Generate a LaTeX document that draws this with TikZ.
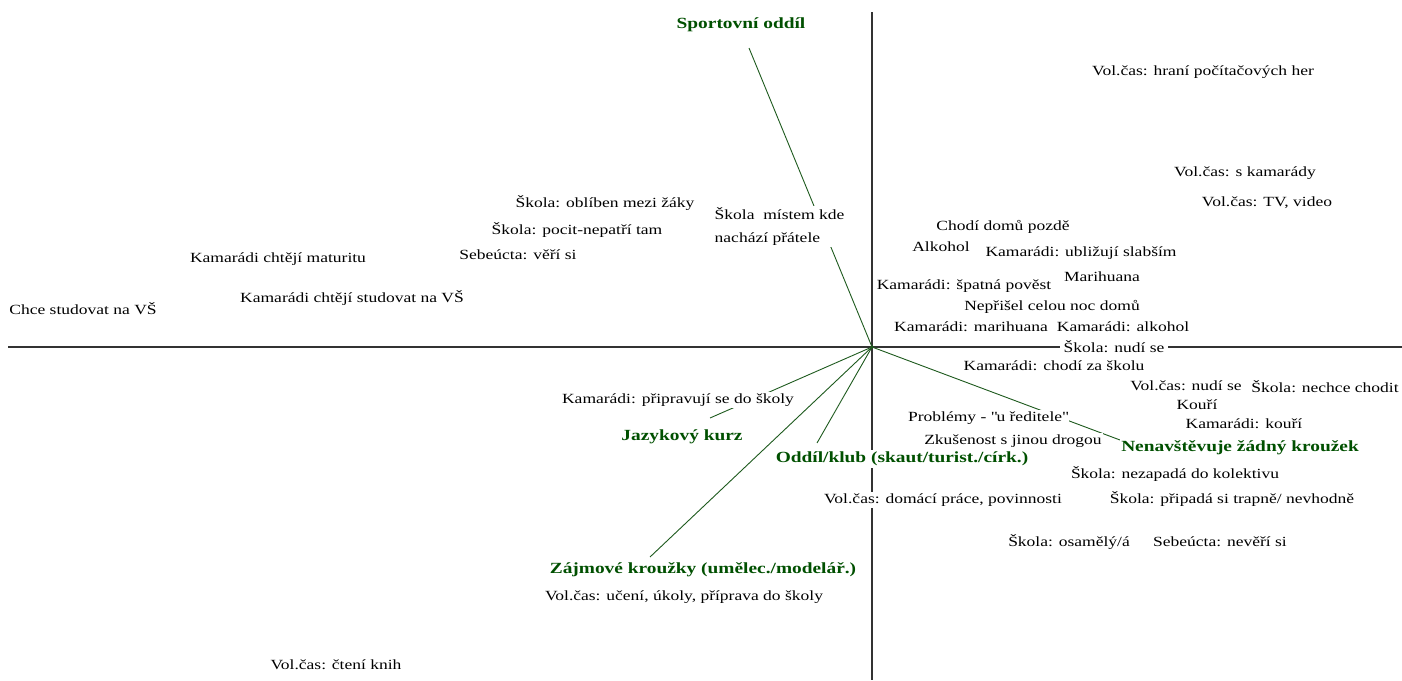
\documentclass[tikz,border=0pt]{standalone}
\usepackage{fontspec}
\setmainfont[FakeStretch=1.25]{Liberation Serif}
\usepackage{tikz}
\definecolor{grpgreen}{RGB}{0,80,0}
\definecolor{raygreen}{RGB}{30,90,30}

\begin{document}
\begin{tikzpicture}[
		x=1pt, y=-1pt,
		every node/.style={fill=white, inner sep=1.5pt, font=\fontsize{14}{17}\selectfont},
		grp/.style={text=grpgreen, font=\fontsize{15.5}{18}\selectfont\bfseries},
		ray/.style={draw=raygreen, line width=0.9pt},
		axis/.style={draw=black!80, line width=1.6pt}
	]
  \useasboundingbox (0,0) rectangle (1402,680);
  % axes
  \coordinate (o) at (872, 347);
  \coordinate (ax_l) at (8, 347);
  \coordinate (ax_r) at (1402, 347);
  \coordinate (ax_t) at (872, 12);
  \coordinate (ax_b) at (872, 680);
  \draw[axis] (ax_l) -- (ax_r);
  \draw[axis] (ax_t) -- (ax_b);
  % rays to the groups
  \coordinate (sport_end) at (749, 48);
  \coordinate (jazyk_end) at (710, 418);
  \coordinate (oddil_end) at (817, 443);
  \coordinate (zajm_end) at (650, 557);
  \coordinate (nenav_end) at (1120, 440);
  \draw[ray] (o) -- (sport_end);
  \draw[ray] (o) -- (jazyk_end);
  \draw[ray] (o) -- (oddil_end);
  \draw[ray] (o) -- (zajm_end);
  \draw[ray] (o) -- (nenav_end);
  \node (o_dot) [circle, fill=raygreen, inner sep=1.3pt] at (o) {};
  % groups
  \node (sport) [grp] at (741, 25) {Sportovní oddíl};
  \node (jazyk) [grp] at (682, 437) {Jazykový kurz};
  \node (oddil) [grp] at (902, 459) {Oddíl/klub (skaut/turist./círk.)};
  \node (zajm) [grp] at (703, 570) {Zájmové kroužky (umělec./modelář.)};
  \node (nenav) [grp] at (1240, 448) {Nenavštěvuje žádný kroužek};
  % answers
  \node (hry) at (1203, 72) {Vol.čas: hraní počítačových her};
  \node (kamar) at (1245, 173) {Vol.čas: s kamarády};
  \node (tv) at (1267, 203) {Vol.čas: TV, video};
  \node (oblib) at (605, 203) {Škola: oblíben mezi žáky};
  \node (nepatri) at (577, 230) {Škola: pocit-nepatří tam};
  \node (veri) at (518, 255) {Sebeúcta: věří si};
  \node (pratele) [anchor=west, align=left, font=\fontsize{14}{23}\selectfont] at (713, 226) {Škola\ \ místem kde\\nachází přátele};
  \node (matur) at (278, 259) {Kamarádi chtějí maturitu};
  \node (kvs) at (352, 298) {Kamarádi chtějí studovat na VŠ};
  \node (vs) at (83, 309) {Chce studovat na VŠ};
  \node (pozde) at (1003, 227) {Chodí domů pozdě};
  \node (alk) at (941, 247) {Alkohol};
  \node (ublizuji) at (1081, 253) {Kamarádi: ubližují slabším};
  \node (mari) at (1102, 277) {Marihuana};
  \node (povest) at (964, 286) {Kamarádi: špatná pověst};
  \node (noc) at (1052, 307) {Nepřišel celou noc domů};
  \node (kmari) at (971, 327) {Kamarádi: marihuana};
  \node (kalk) at (1123, 327) {Kamarádi: alkohol};
  \node (nudi) [inner xsep=4pt] at (1114, 347) {Škola: nudí se};
  \node (zaskolu) at (1054, 366) {Kamarádi: chodí za školu};
  \node (vnudi) at (1186, 386) {Vol.čas: nudí se};
  \node (nechce) at (1325, 387) {Škola: nechce chodit};
  \node (kouri) at (1197, 405) {Kouří};
  \node (kkouri) at (1244, 424) {Kamarádi: kouří};
  \node (reditel) at (988, 418) {Problémy - \textquotedbl u ředitele\textquotedbl};
  \node (droga) at (1013, 441) {Zkušenost s jinou drogou};
  \node (kolektiv) at (1175, 474) {Škola: nezapadá do kolektivu};
  \node (trapne) at (1232, 499) {Škola: připadá si trapně/ nevhodně};
  \node (domaci) at (943, 500) {Vol.čas: domácí práce, povinnosti};
  \node (osamely) at (1069, 542) {Škola: osamělý/á};
  \node (neveri) at (1220, 542) {Sebeúcta: nevěří si};
  \node (pripravuji) at (678, 400) {Kamarádi: připravují se do školy};
  \node (uceni) at (684, 597) {Vol.čas: učení, úkoly, příprava do školy};
  \node (cteni) at (336, 665) {Vol.čas: čtení knih};
\end{tikzpicture}
\end{document}
